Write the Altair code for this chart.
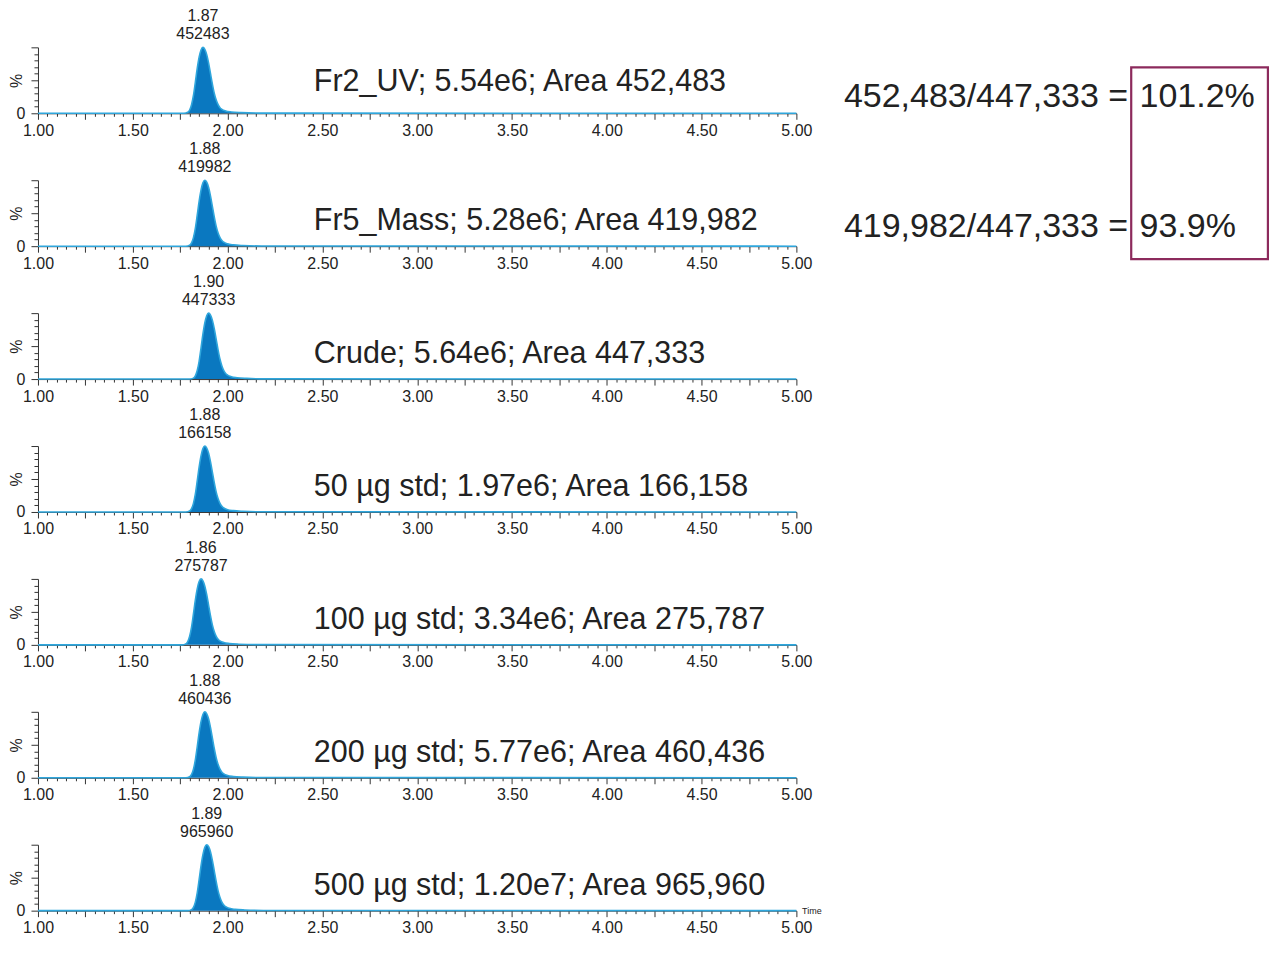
import altair as alt
import pandas as pd

# ---- data ----
NAMES = ["Fr2_UV", "Fr5_Mass", "Crude", "50 µg std", "100 µg std", "200 µg std", "500 µg std"]
MAX_INT = ["5.54e6", "5.28e6", "5.64e6", "1.97e6", "3.34e6", "5.77e6", "1.20e7"]
AREAS = [452483, 419982, 447333, 166158, 275787, 460436, 965960]
RT = [1.87, 1.88, 1.90, 1.88, 1.86, 1.88, 1.89]
LABEL_Y = [47, 38, 38, 38, 38, 38, 38]

# peak profile (offset from apex in min, % of max)
PEAK_OFFSETS = [-0.10, -0.08, -0.07, -0.06, -0.05, -0.04, -0.03, -0.02, -0.01, 0.0,
                0.01, 0.02, 0.03, 0.04, 0.05, 0.06, 0.07, 0.08, 0.09, 0.10, 0.12, 0.15, 0.20, 0.30]
PEAK_PCT = [0, 1.5, 5, 13, 27, 47, 68, 85, 96, 100,
            97, 89, 76, 60, 44, 30, 20, 13, 8.5, 6, 3.5, 2, 1, 0.3]

RATIO_LEFT = ["452,483/447,333 =", "419,982/447,333 ="]
RATIO_RIGHT = ["101.2%", "93.9%"]
RATIO_X_LEFT = [6.75, 6.75]
RATIO_X_RIGHT = [6.81, 6.81]
RATIO_Y = [24, -173]
BOX_X = [6.766, 7.487]
BOX_Y = [69.7, -221.0]

FONT = "Liberation Sans"
FILL = "#0a78c0"
LINE = "#2fa6dc"
TXT = "#222222"
BOX = "#8c2a5c"

x_vals = [round(1.0 + 0.05 * k, 2) for k in range(81)]
y_vals = list(range(0, 101, 10))


def xenc(field):
    return alt.X(field, type="quantitative",
                 scale=alt.Scale(domain=[1, 5], nice=False, zero=False),
                 axis=alt.Axis(values=x_vals, title=None, grid=False,
                               labelExpr="round(datum.value*100) % 50 == 0 ? format(datum.value, '.2f') : ''",
                               tickSize={"condition": {"test": "round(datum.value*100) % 25 == 0", "value": 6}, "value": 3},
                               labelOverlap=False, labelFlush=False, labelFontSize=16,
                               labelPadding=3, domainColor="#333", tickColor="#333"))


def yenc(field):
    return alt.Y(field, type="quantitative",
                 scale=alt.Scale(domain=[0, 100], nice=False),
                 axis=alt.Axis(values=y_vals, title="%", grid=False,
                               labelExpr="datum.value == 0 ? '0' : ''",
                               tickSize={"condition": {"test": "datum.value % 50 == 0", "value": 7}, "value": 4},
                               labelFontSize=16, labelPadding=6, labelBaseline="middle",
                               titleFontSize=16, titleFontWeight="normal", titlePadding=-8,
                               titleY=33, titleAngle=-90,
                               domainColor="#333", tickColor="#333"))


panels = []
for i in range(7):
    rows = [{"t": 1.0, "pct": 0.0}]
    rows += [{"t": round(RT[i] + o, 3), "pct": p} for o, p in zip(PEAK_OFFSETS, PEAK_PCT)]
    rows += [{"t": 5.0, "pct": 0.0}]
    df = pd.DataFrame(rows)

    area = alt.Chart(df).mark_area(
        color=FILL, opacity=1, interpolate="monotone",
        line={"color": LINE, "strokeWidth": 1.6}
    ).encode(x=xenc("t"), y=yenc("pct"))

    lab_df = pd.DataFrame({"t": [2.455], "pct": [LABEL_Y[i]],
                           "txt": [f"{NAMES[i]}; {MAX_INT[i]}; Area {AREAS[i]:,}"]})
    label = alt.Chart(lab_df).mark_text(
        align="left", baseline="middle", fontSize=30.5, font=FONT, color=TXT
    ).encode(x=xenc("t"), y=yenc("pct"), text="txt:N")

    pk_df = pd.DataFrame({"t": [RT[i]], "pct": [100],
                          "rt": [f"{RT[i]:.2f}"], "ar": [str(AREAS[i])]})
    peak_rt = alt.Chart(pk_df).mark_text(
        align="center", baseline="alphabetic", fontSize=16, font=FONT, color=TXT,
        dy=-26, clip=False
    ).encode(x=xenc("t"), y=yenc("pct"), text="rt:N")
    peak_ar = alt.Chart(pk_df).mark_text(
        align="center", baseline="alphabetic", fontSize=16, font=FONT, color=TXT,
        dy=-8, clip=False
    ).encode(x=xenc("t"), y=yenc("pct"), text="ar:N")

    layers = [area, label, peak_rt, peak_ar]

    if i == 0:
        r_df = pd.DataFrame({"tl": RATIO_X_LEFT, "tr": RATIO_X_RIGHT, "pct": RATIO_Y,
                             "left": RATIO_LEFT, "right": RATIO_RIGHT})
        left_txt = alt.Chart(r_df).mark_text(
            align="right", baseline="middle", fontSize=34, font=FONT, color=TXT, clip=False
        ).encode(x=xenc("tl"), y=yenc("pct"), text="left:N")
        right_txt = alt.Chart(r_df).mark_text(
            align="left", baseline="middle", fontSize=34, font=FONT, color=TXT, clip=False
        ).encode(x=xenc("tr"), y=yenc("pct"), text="right:N")
        b_df = pd.DataFrame({"b1": [BOX_X[0]], "b2": [BOX_X[1]], "c1": [BOX_Y[0]], "c2": [BOX_Y[1]]})
        box = alt.Chart(b_df).mark_rect(
            fillOpacity=0, stroke=BOX, strokeWidth=2.2, clip=False
        ).encode(x=xenc("b1"), x2="b2:Q", y=yenc("c1"), y2="c2:Q")
        layers += [left_txt, right_txt, box]

    if i == 6:
        t_df = pd.DataFrame({"t": [5.03], "pct": [0], "txt": ["Time"]})
        tlab = alt.Chart(t_df).mark_text(
            align="left", baseline="middle", fontSize=9, font=FONT, color=TXT, clip=False
        ).encode(x=xenc("t"), y=yenc("pct"), text="txt:N")
        layers.append(tlab)

    panels.append(alt.layer(*layers).properties(width=759, height=66))

chart = alt.vconcat(*panels, spacing=67, bounds="flush").properties(
    padding={"left": 0, "top": 0, "right": 2, "bottom": 2}
).configure_view(stroke=None).configure_axis(
    labelFont=FONT, titleFont=FONT, labelColor=TXT, titleColor=TXT
)

chart.save("out.html", embed_options={"renderer": "svg", "actions": False})
